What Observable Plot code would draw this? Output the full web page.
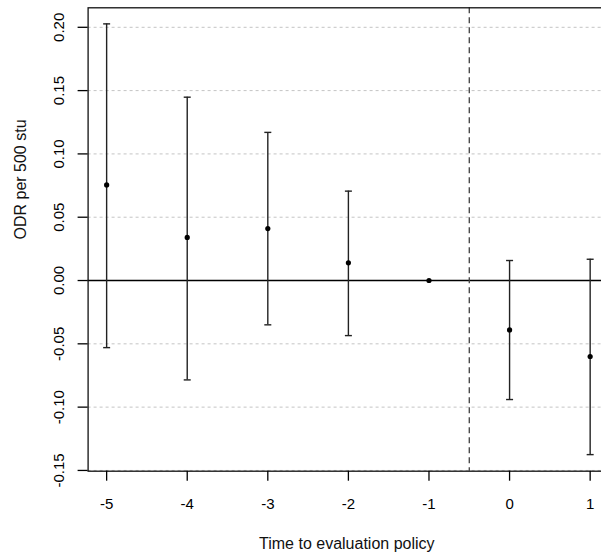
<!DOCTYPE html>
<html>
<head>
<meta charset="utf-8">
<script src="https://cdn.jsdelivr.net/npm/d3@7"></script>
<script src="https://cdn.jsdelivr.net/npm/@observablehq/plot@0.6"></script>
<style>
  html, body { margin: 0; padding: 0; background: white; overflow: hidden; }
  #chart { width: 601px; height: 555px; overflow: hidden; }
</style>
</head>
<body>
<div id="chart"></div>
<script>
const periods   = [-5, -4, -3, -2, -1, 0, 1];
const estimates = [0.0755, 0.034, 0.041, 0.014, 0, -0.039, -0.060];
const lower     = [-0.053, -0.0785, -0.035, -0.0435, null, -0.094, -0.1375];
const upper     = [0.2027, 0.1448, 0.117, 0.0706, null, 0.0158, 0.0168];
const yTicks    = [-0.15, -0.10, -0.05, 0.00, 0.05, 0.10, 0.15, 0.20];
const xTicks    = [-5, -4, -3, -2, -1, 0, 1];
const xTitle = "Time to evaluation policy";
const yTitle = "ODR per 500 stu";
const policyBreak = -0.5;

const rows = periods.map((p, i) => ({x: p, est: estimates[i], lo: lower[i], hi: upper[i]}));
const bars = rows.filter(d => d.lo != null);

const capSymbol = {draw(ctx) { ctx.moveTo(-3.5, 0); ctx.lineTo(3.5, 0); }};

const chart = Plot.plot({
  width: 601,
  height: 555,
  marginLeft: 87.6,
  marginRight: -8,
  marginTop: 7.3,
  marginBottom: 84.3,
  style: {fontFamily: "'Liberation Sans', Arial, sans-serif", fontSize: "15px", color: "black", background: "white", overflow: "hidden"},
  x: {domain: [-5.23, 1.24]},
  y: {domain: [-0.1506, 0.2154]},
  marks: [
    Plot.gridY(yTicks, {stroke: "#c4c4c4", strokeOpacity: 1, strokeDasharray: "3,3", strokeWidth: 1}),
    Plot.ruleY([0], {stroke: "black", strokeWidth: 1.3}),
    Plot.ruleX([policyBreak], {stroke: "#404040", strokeDasharray: "6,4", strokeWidth: 1.3}),
    Plot.ruleX(bars, {x: "x", y1: "lo", y2: "hi", stroke: "#222", strokeWidth: 1.4}),
    Plot.dot(bars, {x: "x", y: "lo", symbol: capSymbol, stroke: "#222", fill: "none", strokeWidth: 1.4}),
    Plot.dot(bars, {x: "x", y: "hi", symbol: capSymbol, stroke: "#222", fill: "none", strokeWidth: 1.4}),
    Plot.dot(rows, {x: "x", y: "est", r: 2.6, fill: "black", stroke: "none"}),
    Plot.frame({stroke: "#111", strokeWidth: 1.3}),
    Plot.axisX({ticks: xTicks, tickSize: 10, tickPadding: 17, tickFormat: d => d < 0 ? "-" + Math.abs(d) : String(d), label: null, strokeWidth: 1.3}),
    Plot.axisY({ticks: yTicks, tickSize: 10, tickPadding: 14, tickRotate: -90, tickFormat: d => (d < 0 ? "-" : "") + Math.abs(d).toFixed(2), label: null, strokeWidth: 1.3}),
    Plot.text([xTitle], {frameAnchor: "bottom", dy: 72.5, dx: -2, text: d => d, fontSize: 16, lineAnchor: "middle", fill: "#111"}),
    Plot.text([yTitle], {frameAnchor: "left", dx: -67, rotate: -90, text: d => d, fontSize: 16, lineAnchor: "middle", fill: "#111"})
  ]
});
document.getElementById("chart").appendChild(chart);
</script>
</body>
</html>
